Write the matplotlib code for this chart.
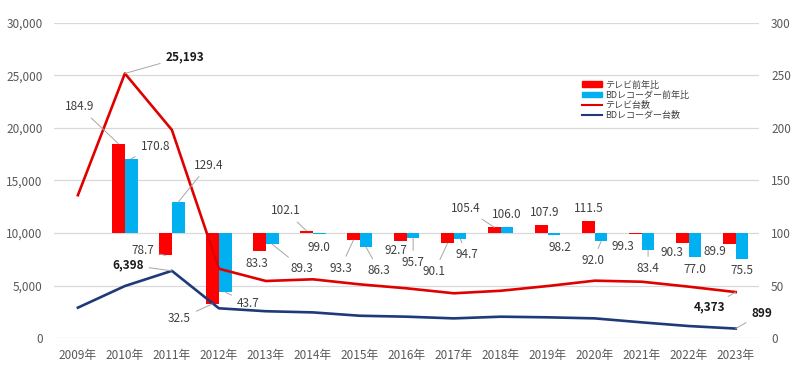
import numpy as np
import matplotlib.pyplot as plt
from matplotlib.patches import Patch
from matplotlib.lines import Line2D
from matplotlib.ticker import FuncFormatter

plt.rcParams['font.family'] = ['Noto Sans CJK JP', 'DejaVu Sans']

# データ
years = ['2009年', '2010年', '2011年', '2012年', '2013年', '2014年', '2015年', '2016年',
         '2017年', '2018年', '2019年', '2020年', '2021年', '2022年', '2023年']
tv_units = [13600, 25193, 19820, 6600, 5430, 5590, 5110, 4730, 4260, 4500, 4950, 5460, 5360, 4890, 4373]
bd_units = [2890, 4950, 6398, 2830, 2550, 2440, 2120, 2030, 1870, 2030, 1970, 1870, 1490, 1140, 899]
tv_ratio = [np.nan, 184.9, 78.7, 32.5, 83.3, 102.1, 93.3, 92.7, 90.1, 105.4, 107.9, 111.5, 99.3, 90.3, 89.9]
bd_ratio = [np.nan, 170.8, 129.4, 43.7, 89.3, 99.0, 86.3, 95.7, 94.7, 106.0, 98.2, 92.0, 83.4, 77.0, 75.5]

# ラベル位置 (offset pixels, 引出線の有無)
tv_lab = [None, (-39, 37, 1), (-23, 5, 1), (-33, -15, 1), (-3, -13, 0), (-21, 20, 1), (-13, -28, 1),
          (-5, -10, 0), (-13, -28, 1), (-29, 19, 1), (3, 12, 0), (0, 12, 0), (-13, -13, 0),
          (-10, -9, 0), (-14, -8, 0)]
bd_lab = [None, (24, 12, 1), (30, 37, 1), (23, -11, 1), (30, -24, 1), (0, -13, 0), (13, -23, 1),
          (0, -25, 1), (7, -16, 1), (0, 12, 0), (6, -13, 0), (-8, -19, 1), (0, -18, 1),
          (0, -12, 0), (0, -12, 0)]

RED = '#FF0000'
BLUE = '#00B0F0'
RED_LINE = '#E00000'
NAVY = '#1F3A78'
GRAY = '#595959'
LEAD = '#A6A6A6'

fig = plt.figure(figsize=(8, 3.8), dpi=100)
ax = fig.add_axes([0.068, 0.1105, 0.881, 0.829])
ax2 = ax.twinx()

x = np.arange(len(years))
w = 0.27

# 前年比の棒 (100 を基準)
tv_h = np.array(tv_ratio) - 100
bd_h = np.array(bd_ratio) - 100
ax.bar(x - w / 2, tv_h, w, bottom=100, color=RED, zorder=2)
ax.bar(x + w / 2, bd_h, w, bottom=100, color=BLUE, zorder=2)
ax.set_ylim(0, 300)
ax.set_yticks(range(0, 301, 50))
ax.yaxis.tick_right()
ax.set_xlim(-0.5, len(years) - 0.5)
ax.set_xticks(x)
ax.set_xticklabels(years)
ax.grid(axis='y', color='#D9D9D9', lw=0.9, zorder=0)
ax.set_axisbelow(True)

# 台数の折れ線
ax2.plot(x, tv_units, color=RED_LINE, lw=1.9, zorder=3)
ax2.plot(x, bd_units, color=NAVY, lw=1.9, zorder=3)
ax2.set_ylim(0, 30000)
ax2.set_yticks(range(0, 30001, 5000))
ax2.yaxis.tick_left()
ax2.yaxis.set_major_formatter(FuncFormatter(lambda v, p: f'{int(v):,}'))

for a in (ax, ax2):
    for s in a.spines.values():
        s.set_visible(False)
    a.tick_params(length=0, labelsize=8.5, colors=GRAY)
ax.tick_params(axis='x', pad=8)
ax.tick_params(axis='y', pad=8.5)
ax2.tick_params(axis='y', pad=8.5)


def label(axis, xv, yv, txt, off, lead, bold=False):
    kw = dict(xy=(xv, yv), xytext=(off[0], off[1]), textcoords='offset pixels',
              ha='center', va='center', fontsize=8.5, color='#404040' if not bold else '#1A1A1A',
              fontweight='bold' if bold else 'normal', zorder=5)
    if lead:
        kw['arrowprops'] = dict(arrowstyle='-', color=LEAD, lw=0.7, shrinkA=2, shrinkB=0)
    axis.annotate(txt, **kw)


for i in range(len(years)):
    if tv_lab[i] is not None:
        label(ax2, x[i] - w / 2, tv_ratio[i] * 100, f'{tv_ratio[i]:.1f}', tv_lab[i][:2], tv_lab[i][2])
    if bd_lab[i] is not None:
        label(ax2, x[i] + w / 2, bd_ratio[i] * 100, f'{bd_ratio[i]:.1f}', bd_lab[i][:2], bd_lab[i][2])

label(ax2, 1, tv_units[1], f'{tv_units[1]:,}', (60, 17), 1, bold=True)
label(ax2, 2, bd_units[2], f'{bd_units[2]:,}', (-44, 6), 1, bold=True)
label(ax2, 14, tv_units[14], f'{tv_units[14]:,}', (-26, -15), 1, bold=True)
label(ax2, 14, bd_units[14], f'{bd_units[14]:,}', (26, 15), 1, bold=True)

handles = [Patch(color=RED), Patch(color=BLUE),
           Line2D([], [], color=RED_LINE, lw=1.5), Line2D([], [], color=NAVY, lw=1.5)]
names = ['テレビ前年比', 'BDレコーダー前年比', 'テレビ台数', 'BDレコーダー台数']
fig.legend(handles, names, loc='upper left', bbox_to_anchor=(0.722, 0.8), frameon=False,
           fontsize=6.5, handlelength=2.2, handleheight=0.6, labelspacing=0.12,
           handletextpad=0.3, borderpad=0, labelcolor='#404040')

fig.savefig('out.png', dpi=100)
